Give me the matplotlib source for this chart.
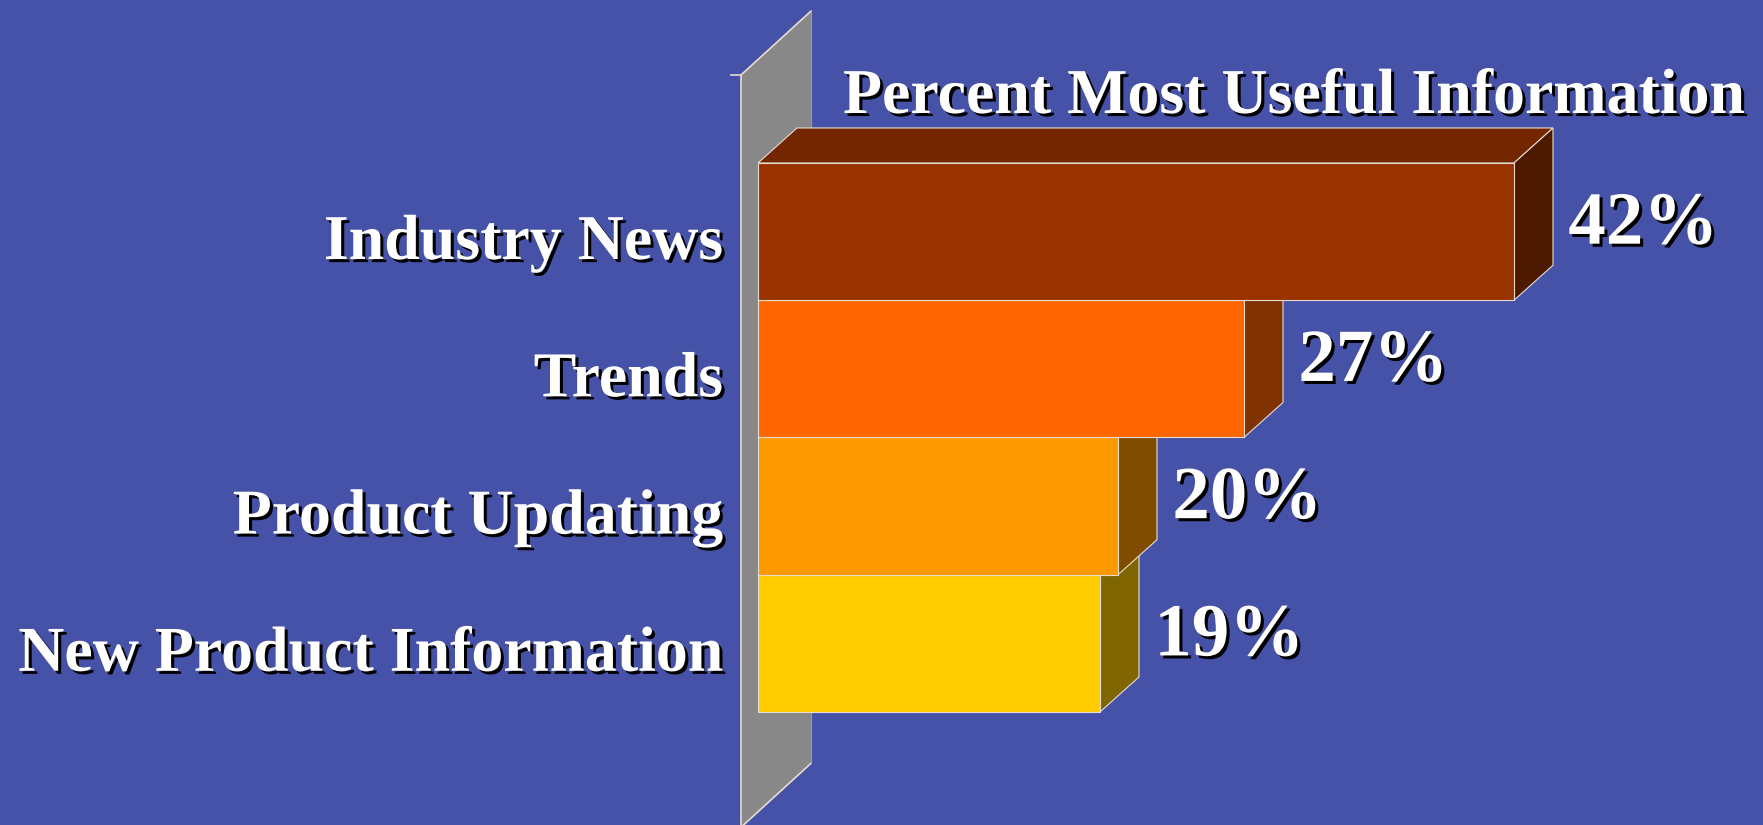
import matplotlib.pyplot as plt
from matplotlib.patches import Polygon, Rectangle
import matplotlib.patheffects as pe

categories = ["Industry News", "Trends", "Product Updating", "New Product Information"]
values = [42, 27, 20, 19]
title = "Percent Most Useful Information"

bg = "#4652A8"
front_colors = ["#993300", "#FF6600", "#FF9900", "#FFCC00"]
edge = "#E6DCD2"

def shade(hexcol, f):
    r, g, b = [int(hexcol[k:k + 2], 16) / 255 for k in (1, 3, 5)]
    return (r * f, g * f, b * f)

plt.rcParams["font.family"] = ["Liberation Serif", "DejaVu Serif"]
plt.rcParams["font.weight"] = "bold"

fig = plt.figure(figsize=(17.63, 8.25), dpi=100)
fig.patch.set_facecolor(bg)
ax = fig.add_axes([0, 0, 1, 1])
ax.set_facecolor(bg)
ax.axis("off")

# x in percent (18 px per %), y in bar rows (row height = 1)
ax.set_xlim(-758 / 18, (1763 - 758) / 18)
ax.set_ylim((825 - 231.6) / 137.25, -231.6 / 137.25)

shadow = [pe.withSimplePatchShadow(offset=(2.2, -2.2), shadow_rgbFace="black", alpha=1.0)]

# back wall
wx, wdx, wdy = -0.944, 3.89, -0.466
wtop, wbot = -1.141, 4.34
ax.add_patch(Polygon([(wx, wtop), (wx + wdx, wtop + wdy), (wx + wdx, wbot + wdy), (wx, wbot)],
                     closed=True, facecolor="#888888", edgecolor="none", zorder=1))
ax.plot([wx, wx + wdx], [wtop, wtop + wdy], color=edge, lw=1.2, zorder=2)
ax.plot([wx, wx], [wtop, wbot], color=edge, lw=1.2, zorder=2)
ax.plot([wx, wx + wdx], [wbot, wbot + wdy], color=edge, lw=1.2, zorder=2)
ax.plot([wx + wdx, wx + wdx], [wtop + wdy, wbot + wdy], color="#9A9A9A", lw=0.8, zorder=2)
ax.plot([wx - 0.55, wx], [wtop, wtop], color=edge, lw=1.2, zorder=2)

# 3D bars, bottom row first so upper bars cover the tops below them
dx, dy = 2.167, -0.255
for i in range(len(values) - 1, -1, -1):
    v = values[i]
    col = front_colors[i]
    y0, y1 = i - 0.5, i + 0.5
    z = 10 + (len(values) - i) * 3
    ax.add_patch(Polygon([(0, y0), (dx, y0 + dy), (v + dx, y0 + dy), (v, y0)], closed=True,
                         facecolor=shade(col, 0.75), edgecolor=edge, lw=0.8, zorder=z))
    ax.add_patch(Polygon([(v, y0), (v + dx, y0 + dy), (v + dx, y1 + dy), (v, y1)], closed=True,
                         facecolor=shade(col, 0.5), edgecolor=edge, lw=0.8, zorder=z))
    ax.add_patch(Rectangle((0, y0), v, 1, facecolor=col, edgecolor=edge, lw=0.8, zorder=z + 1))
    ax.text(v + dx + 0.85, i + 0.088, f"{v}%", fontsize=54, fontweight="bold", color="white",
            ha="left", va="baseline", path_effects=shadow, zorder=30)
    ax.text(-1.94, i + 0.2, categories[i], fontsize=46, fontweight="bold", color="white",
            ha="right", va="baseline", path_effects=shadow, zorder=30)

ax.text((843 - 758) / 18, (113 - 231.6) / 137.25, title, fontsize=46, fontweight="bold",
        color="white", ha="left", va="baseline", path_effects=shadow, zorder=30)

fig.savefig("out.png", dpi=100, facecolor=bg)
